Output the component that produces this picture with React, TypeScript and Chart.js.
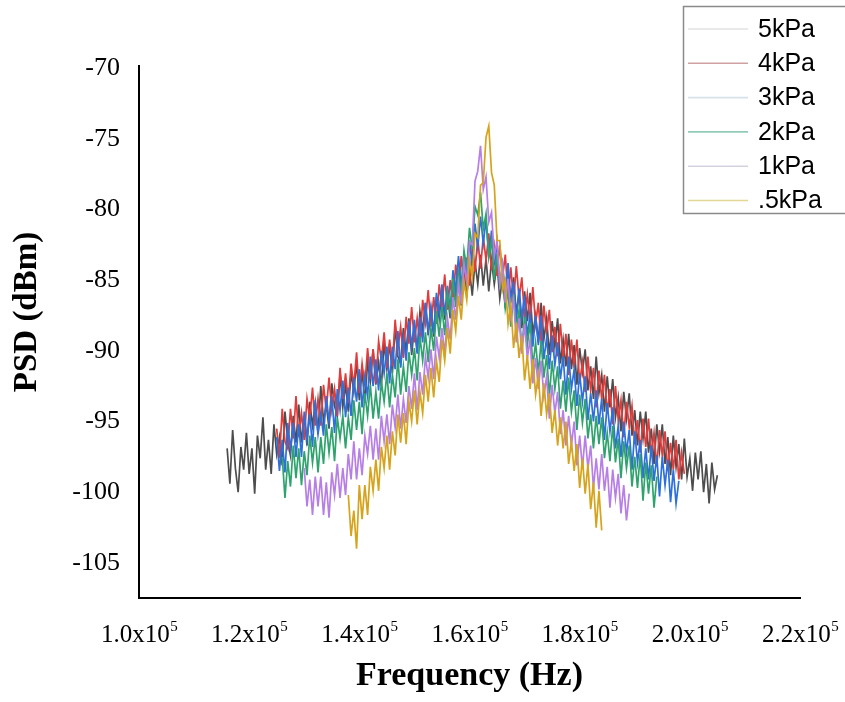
import React, { useEffect, useRef } from "react";
import { Chart, registerables } from "chart.js";

Chart.register(...registerables);

// ---------- data ----------
const SERIES_LABELS = ["5kPa", "4kPa", "3kPa", "2kPa", "1kPa", ".5kPa"];
const LINE_COLORS = ["#4d4d4d", "#e23b3b", "#2d6fdc", "#2ea36d", "#b77fe6", "#d6a31c"];
const LEGEND_COLORS = ["#e2e2e2", "#cfa2a2", "#d6e2ea", "#93cbb9", "#d2d2de", "#e2d794"];

const FREQ_STEP = 500; // Hz between samples
const FREQ_START = [116000, 125000, 125000, 126000, 130000, 138000];

const PSD_5KPA = [
  -96.9, -99.4, -95.6, -98.3, -100.0, -96.8, -98.4, -95.8, -98.7, -96.9,
  -100.1, -96.0, -97.6, -94.7, -98.4, -96.3, -98.7, -95.2, -97.3, -96.1,
  -98.1, -94.3, -96.4, -97.4, -94.6, -96.5, -93.8, -96.5, -94.6, -96.7,
  -93.6, -95.3, -93.7, -95.9, -92.5, -95.0, -93.8, -95.5, -92.3, -93.9,
  -94.6, -91.6, -94.0, -92.4, -94.3, -91.5, -92.9, -90.8, -93.5, -91.4,
  -93.7, -90.8, -92.2, -89.9, -92.4, -90.8, -92.5, -89.4, -91.3, -89.5,
  -91.6, -88.3, -90.4, -90.9, -88.4, -90.1, -87.7, -90.3, -88.2, -90.1,
  -87.2, -88.6, -86.6, -88.9, -87.1, -89.0, -86.2, -87.7, -85.5, -87.8,
  -86.0, -87.7, -84.9, -86.4, -84.7, -86.8, -84.1, -86.0, -84.3, -86.1,
  -83.7, -85.3, -83.2, -85.4, -83.5, -85.8, -83.6, -85.3, -83.8, -86.3,
  -84.8, -87.0, -84.5, -86.4, -84.8, -87.4, -85.8, -88.4, -85.8, -87.9,
  -85.9, -88.8, -87.5, -89.4, -86.6, -89.2, -87.7, -90.3, -87.9, -89.7,
  -87.7, -90.9, -89.2, -91.1, -88.8, -91.3, -89.6, -92.4, -89.8, -91.5,
  -89.9, -92.8, -91.1, -93.4, -90.4, -93.0, -91.7, -94.3, -91.8, -94.0,
  -92.0, -94.7, -93.3, -95.7, -92.9, -94.8, -93.0, -96.0, -94.2, -96.7,
  -94.3, -96.2, -94.3, -97.2, -95.5, -98.0, -95.2, -97.1, -95.2, -98.0,
  -96.1, -98.8, -96.0, -98.2, -96.6, -99.1, -96.2, -98.9, -97.6, -99.9,
  -97.2, -99.1, -97.1, -100.0, -98.0, -100.8, -97.9, -99.8, -98.8,
];

const PSD_4KPA = [
  -95.5, -97.6, -94.1, -96.4, -96.9, -94.1, -96.2, -93.2, -96.1, -94.4,
  -96.3, -93.4, -94.8, -92.6, -95.3, -93.4, -95.3, -92.4, -94.2, -91.9,
  -94.2, -92.7, -94.6, -91.2, -93.4, -91.6, -93.7, -90.9, -92.5, -90.1,
  -93.0, -90.9, -92.5, -89.8, -92.0, -89.9, -92.3, -89.3, -90.7, -88.7,
  -91.2, -89.2, -91.1, -87.8, -89.9, -88.3, -90.5, -87.6, -89.5, -86.9,
  -89.4, -87.7, -89.5, -86.4, -88.0, -85.7, -88.3, -86.2, -88.1, -85.3,
  -86.9, -84.6, -87.1, -85.0, -86.8, -83.9, -85.5, -83.3, -85.5, -83.4,
  -85.4, -82.7, -84.4, -82.0, -84.2, -81.9, -83.6, -81.7, -84.3, -82.6,
  -84.7, -82.5, -84.8, -83.2, -86.2, -84.1, -86.5, -84.0, -86.3, -84.8,
  -87.7, -86.0, -88.0, -85.5, -88.1, -86.6, -89.4, -86.8, -88.7, -87.1,
  -90.1, -88.3, -90.4, -88.1, -90.6, -88.8, -91.7, -89.2, -91.2, -89.2,
  -92.3, -90.8, -92.9, -90.4, -92.8, -91.2, -94.0, -91.4, -93.4, -91.7,
  -94.4, -92.7, -95.2, -92.5, -94.9, -93.5, -96.1, -93.6, -95.4, -93.9,
  -96.6, -94.9, -97.2, -94.8, -96.8, -94.8, -97.4, -95.8, -98.2, -95.6,
  -97.4, -95.7, -98.5, -96.5, -98.4, -96.3, -99.1, -97.2, -98.7,
];

const PSD_3KPA = [
  -96.1, -98.5, -96.3, -98.6, -95.1, -97.0, -95.1, -97.5, -95.2, -97.5,
  -94.3, -96.3, -94.5, -96.8, -93.5, -95.9, -94.4, -96.0, -93.2, -95.0,
  -93.2, -95.8, -92.7, -94.2, -92.1, -94.7, -92.6, -94.6, -91.9, -93.6,
  -91.3, -94.0, -91.8, -93.2, -90.4, -92.5, -90.6, -92.8, -90.0, -91.6,
  -89.7, -92.3, -89.7, -91.3, -88.6, -91.2, -89.1, -90.7, -87.9, -89.7,
  -87.8, -90.2, -87.6, -89.4, -86.6, -88.6, -86.9, -88.8, -85.9, -87.4,
  -85.3, -87.5, -85.4, -87.2, -84.3, -85.8, -83.3, -85.5, -83.2, -84.9,
  -82.2, -84.0, -81.0, -82.7, -80.5, -82.4, -80.7, -83.4, -81.5, -83.8,
  -82.4, -85.4, -83.9, -86.0, -83.8, -86.6, -85.1, -87.9, -85.6, -87.7,
  -86.1, -89.0, -87.4, -89.7, -87.5, -89.6, -87.5, -90.6, -89.1, -91.3,
  -88.9, -91.0, -89.4, -92.0, -90.4, -93.1, -90.4, -92.7, -91.3, -93.9,
  -91.6, -93.6, -91.8, -94.9, -93.0, -95.0, -92.8, -95.2, -93.4, -96.3,
  -93.7, -95.7, -94.0, -96.9, -95.3, -97.5, -95.0, -97.2, -95.6, -98.4,
  -95.7, -97.9, -96.3, -99.0, -96.9, -99.1, -96.7, -99.2, -97.4, -100.3,
  -97.5, -99.5, -97.7, -100.7, -98.4, -100.8, -99.2,
];

const PSD_2KPA = [
  -97.5, -100.4, -97.8, -99.6, -96.7, -99.0, -96.9, -99.5, -97.1, -98.8,
  -96.0, -97.9, -96.1, -98.6, -96.1, -98.0, -95.2, -97.2, -95.4, -97.8,
  -94.7, -96.2, -94.6, -96.9, -94.7, -96.3, -93.5, -95.6, -93.6, -95.9,
  -93.0, -94.6, -92.4, -94.8, -92.9, -94.8, -92.2, -93.6, -91.6, -94.0,
  -91.7, -93.3, -90.6, -93.1, -91.1, -92.9, -90.1, -91.7, -89.8, -92.1,
  -89.0, -90.7, -88.7, -90.8, -88.4, -90.0, -87.2, -89.0, -86.9, -88.9,
  -85.9, -87.2, -84.9, -86.9, -84.5, -85.9, -82.9, -84.2, -81.3, -82.8,
  -79.8, -80.4, -78.8, -81.4, -80.3, -83.4, -82.2, -85.0, -83.1, -85.6,
  -84.0, -87.0, -85.8, -88.3, -86.0, -88.5, -87.1, -89.8, -87.6, -89.6,
  -88.0, -91.1, -89.4, -91.6, -89.3, -91.9, -90.3, -93.2, -90.7, -92.7,
  -91.1, -94.1, -92.1, -94.3, -91.9, -94.3, -92.8, -95.6, -93.1, -95.1,
  -93.4, -96.2, -94.5, -96.9, -94.6, -96.6, -94.7, -97.6, -95.8, -97.8,
  -95.3, -97.9, -96.2, -99.0, -96.4, -98.3, -96.7, -99.6, -97.5, -99.7,
  -97.3, -100.6, -97.9, -100.1, -98.1, -101.1, -98.9,
];

const PSD_1KPA = [
  -98.3, -101.0, -99.1, -101.6, -98.9, -101.0, -98.9, -101.6, -99.3, -101.8,
  -98.6, -100.2, -98.0, -100.4, -98.3, -100.2, -97.3, -99.1, -96.4, -99.1,
  -96.9, -98.8, -96.0, -97.3, -95.3, -97.7, -95.5, -97.7, -94.6, -96.4,
  -94.5, -96.6, -93.8, -95.4, -93.1, -95.5, -93.4, -95.1, -92.5, -94.1,
  -91.6, -94.2, -91.5, -93.1, -90.4, -91.9, -89.9, -92.0, -89.0, -90.5,
  -88.4, -90.2, -87.7, -89.2, -86.2, -87.8, -85.2, -86.7, -83.8, -85.2,
  -82.3, -82.5, -78.0, -77.3, -75.5, -78.6, -77.7, -80.9, -80.2, -83.3,
  -82.2, -85.3, -83.9, -86.6, -84.9, -87.6, -86.4, -89.4, -87.7, -90.2,
  -88.1, -90.5, -89.2, -92.3, -90.5, -92.7, -90.7, -93.2, -91.8, -94.8,
  -92.4, -94.4, -92.9, -95.9, -94.2, -96.7, -94.6, -96.7, -95.0, -98.1,
  -96.0, -98.3, -96.0, -98.3, -96.7, -99.7, -97.6, -99.8, -97.3, -99.9,
  -98.2, -101.1, -98.4, -100.4, -98.7, -101.5, -99.5, -102.0, -100.1,
];

const PSD_05KPA = [
  -100.2, -103.1, -101.3, -104.0, -99.5, -101.9, -99.5, -101.6, -98.2, -99.9,
  -97.7, -99.9, -96.8, -98.3, -96.0, -98.4, -95.7, -97.4, -94.5, -96.5,
  -94.4, -96.6, -93.6, -95.0, -92.8, -95.2, -92.9, -94.4, -91.7, -93.6,
  -91.2, -93.3, -90.7, -92.2, -89.2, -90.7, -88.4, -90.2, -87.1, -88.6,
  -86.1, -87.8, -85.1, -86.4, -83.6, -84.8, -81.7, -82.0, -78.3, -78.1,
  -74.9, -74.1, -77.4, -78.3, -82.2, -82.2, -85.7, -85.0, -88.1, -86.7,
  -89.8, -88.0, -90.5, -88.9, -92.1, -90.3, -92.7, -90.6, -93.1, -91.7,
  -94.6, -92.3, -94.5, -93.0, -95.8, -94.2, -96.7, -94.7, -96.9, -95.0,
  -98.0, -96.4, -98.5, -96.6, -99.7, -97.6, -100.1, -98.0, -101.2, -99.3,
  -102.5, -99.9, -102.7,
];

const SERIES_VALUES = [PSD_5KPA, PSD_4KPA, PSD_3KPA, PSD_2KPA, PSD_1KPA, PSD_05KPA];

const X_TICKS = [100000, 120000, 140000, 160000, 180000, 200000, 220000];
const X_TICK_MANTISSA = ["1.0", "1.2", "1.4", "1.6", "1.8", "2.0", "2.2"];
const X_TICK_EXP = "5";
const Y_TICKS = [-105, -100, -95, -90, -85, -80, -75, -70];

const X_TITLE = "Frequency (Hz)";
const Y_TITLE = "PSD (dBm)";

const SERIF = "'Liberation Serif', 'Times New Roman', serif";
const SANS = "'Liberation Sans', Arial, sans-serif";

// ---------- plugin for superscript tick labels, y title, legend ----------
const decorPlugin = {
  id: "decor",
  afterDraw(chart: any) {
    const ctx = chart.ctx as CanvasRenderingContext2D;
    const xs = chart.scales.x;
    const area = chart.chartArea;
    ctx.save();
    ctx.fillStyle = "#000";
    ctx.textAlign = "left";
    ctx.textBaseline = "alphabetic";

    // x tick labels with superscript exponent
    X_TICKS.forEach((v, i) => {
      const px = xs.getPixelForValue(v);
      const main = X_TICK_MANTISSA[i] + "x10";
      ctx.font = `25px ${SERIF}`;
      const w1 = ctx.measureText(main).width;
      ctx.font = `15px ${SERIF}`;
      const w2 = ctx.measureText(X_TICK_EXP).width;
      const start = px - (w1 + w2) / 2;
      const base = area.bottom + 44;
      ctx.font = `25px ${SERIF}`;
      ctx.fillText(main, start, base);
      ctx.font = `15px ${SERIF}`;
      ctx.fillText(X_TICK_EXP, start + w1 + 0.5, base - 11);
    });

    // y title
    ctx.save();
    ctx.translate(27, 312);
    ctx.rotate(-Math.PI / 2);
    ctx.textAlign = "center";
    ctx.textBaseline = "middle";
    ctx.font = `bold 33px ${SERIF}`;
    ctx.fillText(Y_TITLE, 0, 0);
    ctx.restore();

    // legend
    const lx = 683.5;
    const ly = 6.5;
    ctx.strokeStyle = "#8a8a8a";
    ctx.lineWidth = 1.5;
    ctx.strokeRect(lx, ly, 170, 207);
    ctx.font = `25px ${SANS}`;
    ctx.textBaseline = "middle";
    ctx.textAlign = "left";
    SERIES_LABELS.forEach((label, i) => {
      const y = 29 + i * 34.3;
      ctx.strokeStyle = LEGEND_COLORS[i];
      ctx.lineWidth = 1.6;
      ctx.beginPath();
      ctx.moveTo(688, y);
      ctx.lineTo(748, y);
      ctx.stroke();
      ctx.fillStyle = "#000";
      ctx.fillText(label, 758, y + 1);
    });
    ctx.restore();
  },
};

export default function App() {
  const canvasRef = useRef<HTMLCanvasElement | null>(null);

  useEffect(() => {
    const canvas = canvasRef.current;
    if (!canvas) return;

    const datasets = SERIES_VALUES.map((vals, si) => ({
      label: SERIES_LABELS[si],
      data: vals.map((y, i) => ({ x: FREQ_START[si] + i * FREQ_STEP, y })),
      borderColor: LINE_COLORS[si],
      backgroundColor: LINE_COLORS[si],
      borderWidth: 1.7,
      pointRadius: 0,
      tension: 0,
      fill: false,
      order: SERIES_LABELS.length - si,
    }));

    const chart = new Chart(canvas, {
      type: "line",
      data: { datasets },
      plugins: [decorPlugin],
      options: {
        animation: false,
        responsive: false,
        devicePixelRatio: 1,
        parsing: true,
        layout: { padding: { left: 0, top: 66, right: 45, bottom: 0 } },
        plugins: {
          legend: { display: false },
          tooltip: { enabled: false },
        },
        scales: {
          x: {
            type: "linear",
            min: 100000,
            max: 220000,
            grid: { display: false, drawTicks: false, tickLength: 0 },
            border: { display: true, color: "#000", width: 2 },
            ticks: { display: false },
            afterBuildTicks: (s: any) => {
              s.ticks = X_TICKS.map((v) => ({ value: v }));
            },
            afterFit: (s: any) => {
              s.height = 104;
            },
            title: {
              display: true,
              text: X_TITLE,
              color: "#000",
              font: { family: SERIF, size: 34, weight: "bold" },
              padding: { top: 0, bottom: 5 },
            },
          },
          y: {
            type: "linear",
            min: -107.48,
            max: -69.86,
            grid: { display: false, drawTicks: false, tickLength: 0 },
            border: { display: true, color: "#000", width: 2 },
            afterBuildTicks: (s: any) => {
              s.ticks = Y_TICKS.map((v) => ({ value: v }));
            },
            afterFit: (s: any) => {
              s.width = 139;
            },
            ticks: {
              color: "#000",
              padding: 19,
              font: { family: SERIF, size: 26 },
              callback: (v: any) => String(v),
            },
          },
        },
      },
    });

    return () => chart.destroy();
  }, []);

  return (
    <div style={{ position: "absolute", left: 0, top: 0, width: 845, height: 702, background: "#fff" }}>
      <canvas ref={canvasRef} width={845} height={702} style={{ display: "block" }} />
    </div>
  );
}
